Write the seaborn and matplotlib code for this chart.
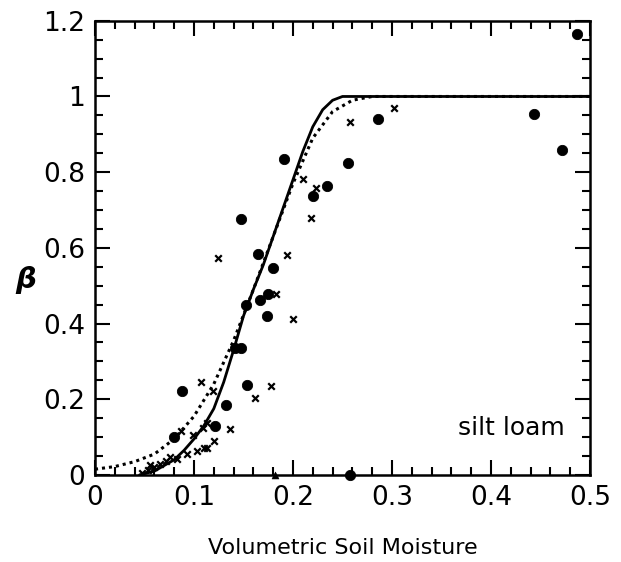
import matplotlib
matplotlib.use("Agg")
import matplotlib.pyplot as plt
from matplotlib.ticker import MultipleLocator
import seaborn as sns
import pandas as pd

# filled circles
dot_x = [0.080, 0.088, 0.121, 0.132, 0.141, 0.147, 0.154, 0.153, 0.147, 0.165,
         0.167, 0.174, 0.175, 0.180, 0.191, 0.220, 0.234, 0.256, 0.286, 0.258,
         0.443, 0.472, 0.487]
dot_y = [0.101, 0.223, 0.130, 0.185, 0.334, 0.334, 0.237, 0.449, 0.676, 0.584,
         0.461, 0.421, 0.477, 0.548, 0.836, 0.736, 0.763, 0.823, 0.940, 0.0,
         0.954, 0.858, 1.164]

# crosses
cross_x = [0.047, 0.054, 0.056, 0.060, 0.066, 0.072, 0.076, 0.083, 0.087, 0.093,
           0.099, 0.103, 0.107, 0.109, 0.110, 0.113, 0.113, 0.119, 0.120, 0.124,
           0.136, 0.162, 0.178, 0.183, 0.194, 0.200, 0.210, 0.218, 0.223, 0.258,
           0.302]
cross_y = [0.005, 0.013, 0.025, 0.020, 0.029, 0.037, 0.048, 0.041, 0.115, 0.056,
           0.106, 0.064, 0.245, 0.125, 0.070, 0.070, 0.138, 0.223, 0.090, 0.573,
           0.121, 0.203, 0.235, 0.477, 0.580, 0.413, 0.782, 0.680, 0.757, 0.932,
           0.970]

# triangle on the axis
tri_x = [0.182]
tri_y = [0.0]

# solid fit curve
solid_x = [0.045, 0.06, 0.07, 0.08, 0.09, 0.10, 0.11, 0.12, 0.13, 0.14, 0.15,
           0.16, 0.17, 0.18, 0.19, 0.20, 0.21, 0.22, 0.23, 0.24, 0.25, 0.50]
solid_y = [0.0, 0.010, 0.025, 0.040, 0.065, 0.095, 0.130, 0.175, 0.245, 0.330, 0.420,
           0.490, 0.555, 0.630, 0.705, 0.780, 0.855, 0.920, 0.965, 0.990, 1.0, 1.0]

# dotted fit curve
dotted_x = [0.0, 0.02, 0.04, 0.06, 0.08, 0.10, 0.12, 0.14, 0.16, 0.18, 0.20,
            0.22, 0.24, 0.26, 0.28, 0.50]
dotted_y = [0.015, 0.022, 0.035, 0.055, 0.095, 0.155, 0.240, 0.355, 0.490, 0.630,
            0.770, 0.890, 0.960, 0.990, 1.0, 1.0]

xticks = [0, 0.1, 0.2, 0.3, 0.4, 0.5]
xtick_labels = ["0", "0.1", "0.2", "0.3", "0.4", "0.5"]
yticks = [0, 0.2, 0.4, 0.6, 0.8, 1.0, 1.2]
ytick_labels = ["0", "0.2", "0.4", "0.6", "0.8", "1", "1.2"]

sns.set_style("ticks")
plt.rcParams['font.family'] = ['DejaVu Sans']

fig = plt.figure(figsize=(6.21, 5.62), dpi=100)
ax = fig.add_axes([0.153, 0.155, 0.797, 0.808])

sns.lineplot(data=pd.DataFrame({"x": solid_x, "y": solid_y}), x="x", y="y",
             ax=ax, color="black", lw=2.0, sort=False)
sns.lineplot(data=pd.DataFrame({"x": dotted_x, "y": dotted_y}), x="x", y="y",
             ax=ax, color="black", lw=2.2, sort=False, linestyle=(0, (1, 1.3)))

sns.scatterplot(x=dot_x, y=dot_y, ax=ax, marker="o", s=55, color="black",
                edgecolor="black", clip_on=False, zorder=5)
sns.scatterplot(x=cross_x, y=cross_y, ax=ax, marker="x", s=22, color="black",
                linewidth=1.6, zorder=5)
sns.scatterplot(x=tri_x, y=tri_y, ax=ax, marker="^", s=25, color="black",
                edgecolor="black", clip_on=False, zorder=5)

ax.set_xlim(0, 0.5)
ax.set_ylim(0, 1.2)
ax.set_xticks(xticks)
ax.set_xticklabels(xtick_labels)
ax.set_yticks(yticks)
ax.set_yticklabels(ytick_labels)
ax.xaxis.set_minor_locator(MultipleLocator(0.02))
ax.yaxis.set_minor_locator(MultipleLocator(0.05))

ax.tick_params(which="both", direction="in", top=True, right=True,
               width=1.5, labelsize=19, colors="black")
ax.tick_params(which="major", length=11, pad=7)
ax.tick_params(which="minor", length=6)
for sp in ax.spines.values():
    sp.set_linewidth(1.8)
    sp.set_color("black")

ax.set_xlabel("Volumetric Soil Moisture", fontsize=16, labelpad=20, color="black")
ax.set_ylabel(r"$\boldsymbol{\beta}$", fontsize=21, rotation=0, va="center",
              color="black")
ax.yaxis.set_label_coords(-0.14, 0.43)

ax.text(0.475, 0.125, "silt loam", fontsize=18, ha="right", va="center",
        color="black")

fig.savefig("out.png", dpi=100)
